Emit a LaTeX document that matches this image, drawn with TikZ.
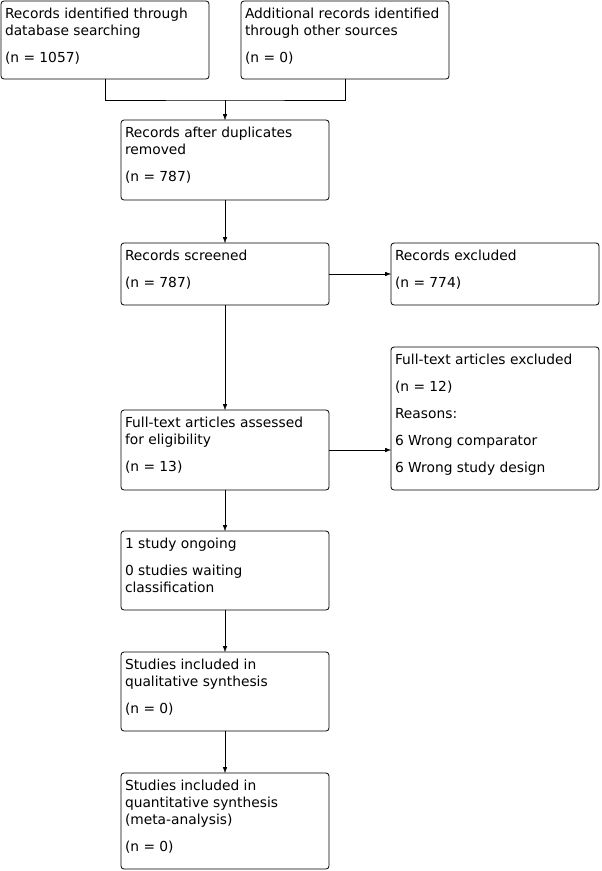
\documentclass[tikz,border=0pt]{standalone}
\usepackage{fontspec}
\setmainfont{DejaVu Sans}
\usetikzlibrary{arrows.meta,positioning}

\newcommand{\flowtext}[2]{\parbox[t][#1][t]{200bp}{\setlength{\parskip}{10bp}\rule{0pt}{17bp}#2}}

\begin{document}
\begin{tikzpicture}[x=1bp,y=-1bp,>={Latex[length=6bp,width=4.5bp]},
    font=\fontsize{13.8bp}{17bp}\selectfont,node distance=42bp,
    flowbox/.style={draw,rounded corners=3bp,inner xsep=4bp,inner ysep=0pt,
      outer sep=0pt,minimum width=208bp,line width=0.8bp}]
  \useasboundingbox (0,0) rectangle (602,871);
  % identification
  \node[flowbox,anchor=north west] (dbrec) at (1,1)
    {\flowtext{78bp}{Records identified through\\database searching\par(n = 1057)}};
  \node[flowbox,anchor=north west] (otherrec) at (241,1)
    {\flowtext{78bp}{Additional records identified\\through other sources\par(n = 0)}};
  \node[flowbox,anchor=north west] (dedup) at (121,120)
    {\flowtext{80bp}{Records after duplicates\\removed\par(n = 787)}};
  % screening
  \node[flowbox,below=43bp of dedup] (screen)
    {\flowtext{62bp}{Records screened\par(n = 787)}};
  \node[flowbox,right=62bp of screen] (excl)
    {\flowtext{62bp}{Records excluded\par(n = 774)}};
  % eligibility
  \node[flowbox,below=105bp of screen] (assess)
    {\flowtext{80bp}{Full-text articles assessed\\for eligibility\par(n = 13)}};
  \node[flowbox,anchor=north west] (ftexcl) at (391,347)
    {\flowtext{143bp}{Full-text articles excluded\par(n = 12)\par Reasons:\par 6 Wrong comparator\par 6 Wrong study design}};
  \node[flowbox,below=41bp of assess] (ongoing)
    {\flowtext{79bp}{1 study ongoing\par 0 studies waiting\\classification}};
  % included
  \node[flowbox,below=of ongoing] (qual)
    {\flowtext{79bp}{Studies included in\\qualitative synthesis\par(n = 0)}};
  \node[flowbox,below=of qual] (quant)
    {\flowtext{96bp}{Studies included in\\quantitative synthesis\\(meta-analysis)\par(n = 0)}};
  % connectors
  \coordinate[above=20bp of dedup] (merge);
  \draw (dbrec.south) |- (merge) -| (otherrec.south);
  \draw[->] (merge) -- (dedup.north);
  \draw[->] (dedup) -- (screen);
  \draw[->] (screen) -- (excl);
  \draw[->] (screen) -- (assess);
  \draw[->] (assess.east) -- (assess.east -| ftexcl.west);
  \draw[->] (assess) -- (ongoing);
  \draw[->] (ongoing) -- (qual);
  \draw[->] (qual) -- (quant);
\end{tikzpicture}
\end{document}
